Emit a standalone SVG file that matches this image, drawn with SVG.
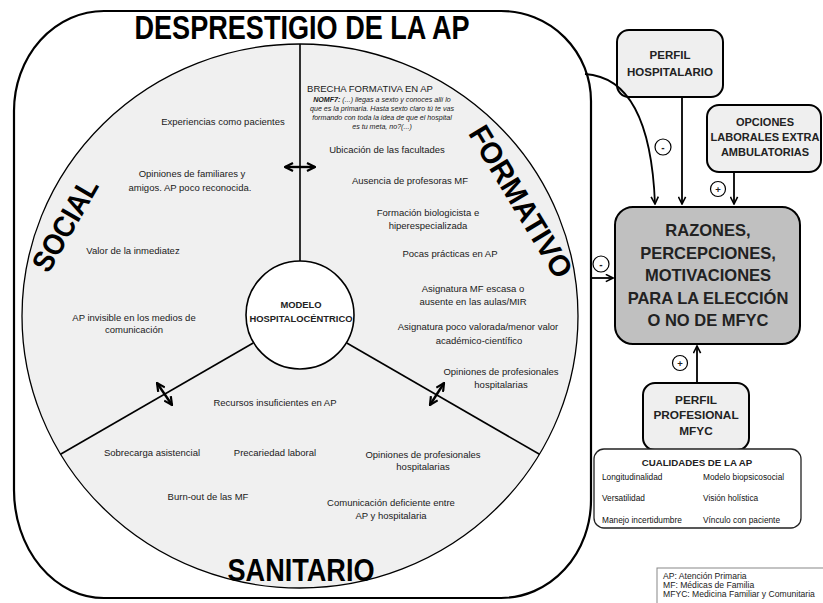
<svg xmlns="http://www.w3.org/2000/svg" width="823" height="603" viewBox="0 0 823 603">
<style>
.t{font-family:"Liberation Sans",Arial,sans-serif;font-size:9.5px;fill:#1a1a1a;text-anchor:middle}
.q{font-family:"Liberation Sans",Arial,sans-serif;font-size:7.1px;font-style:italic;fill:#1a1a1a;text-anchor:middle}
.big{font-family:"Liberation Sans",Arial,sans-serif;font-weight:bold;fill:#000;text-anchor:middle}
.nb{font-family:"Liberation Sans",Arial,sans-serif;font-weight:bold;fill:#222;text-anchor:middle}
.c{font-family:"Liberation Sans",Arial,sans-serif;font-size:8.3px;fill:#111}
.lg{font-family:"Liberation Sans",Arial,sans-serif;font-size:8.6px;fill:#222}
.box{stroke:#000;stroke-width:2}
.conn{fill:none;stroke:#000;stroke-width:1.8}
.dbl{fill:none;stroke:#000;stroke-width:2.4}
.sign{fill:#fff;stroke:#000;stroke-width:1.2}
</style>
<defs>
<marker id="ah" viewBox="0 0 10 10" refX="9" refY="5" markerWidth="9" markerHeight="9" markerUnits="userSpaceOnUse" orient="auto">
<path d="M1,1 L9,5 L1,9" fill="none" stroke="#000" stroke-width="1.8"/>
</marker>
<marker id="dh" viewBox="0 0 10 10" refX="9" refY="5" markerWidth="10" markerHeight="10" markerUnits="userSpaceOnUse" orient="auto-start-reverse">
<path d="M1,1 L9,5 L1,9" fill="none" stroke="#000" stroke-width="2.2"/>
</marker>
</defs>
<rect width="823" height="603" fill="#fff"/>

<g id="desprestigio">
<path d="M14,111 A90,100 0 0 1 104,11 L501,11 A90,90 0 0 1 591,101 L591,500 A90,98 0 0 1 501,598 L104,598 A90,108 0 0 1 14,490 Z" fill="#fff" stroke="#000" stroke-width="2.2"/>
<text class="big" x="302" y="39" font-size="33" textLength="335" lengthAdjust="spacingAndGlyphs">DESPRESTIGIO DE LA AP</text>
</g>

<g id="circulo">
<ellipse cx="300" cy="316" rx="278" ry="272" fill="#f0f0f0" stroke="#000" stroke-width="1.3"/>
<line x1="300" y1="44" x2="300" y2="262" stroke="#000" stroke-width="1.6"/>
<line x1="253.2" y1="343" x2="60.5" y2="454.3" stroke="#000" stroke-width="1.6"/>
<line x1="346.8" y1="343" x2="539.5" y2="454.3" stroke="#000" stroke-width="1.6"/>
</g>

<g id="modelo">
<circle cx="300" cy="315" r="54" fill="#fff" stroke="#000" stroke-width="1.6"/>
<text class="nb" x="301" y="308" font-size="9.4">MODELO</text>
<text class="nb" x="301" y="322" font-size="9.4">HOSPITALOCÉNTRICO</text>
</g>

<g id="social">
<text class="big" font-size="30" textLength="102" lengthAdjust="spacingAndGlyphs" transform="translate(74,230) rotate(-60)">SOCIAL</text>
<text class="t" x="223" y="125">Experiencias como pacientes</text>
<text class="t" x="192" y="177">Opiniones de familiares y</text>
<text class="t" x="190" y="191">amigos. AP poco reconocida.</text>
<text class="t" x="133" y="254">Valor de la inmediatez</text>
<text class="t" x="134" y="321">AP invisible en los medios de</text>
<text class="t" x="134" y="333">comunicación</text>
</g>

<g id="formativo">
<text class="big" font-size="30" textLength="172" lengthAdjust="spacingAndGlyphs" transform="translate(512,207) rotate(59)">FORMATIVO</text>
<text class="t" x="370" y="91.5">BRECHA FORMATIVA EN AP</text>
<text class="q" x="382" y="101.5"><tspan font-weight="bold">NOMF7:</tspan> (...) llegas a sexto y conoces allí lo</text>
<text class="q" x="382" y="110.5">que es la primaria. Hasta sexto claro tú te vas</text>
<text class="q" x="382" y="119.5">formando con toda la idea de que el hospital</text>
<text class="q" x="382" y="128.5">es tu meta, no?(...)</text>
<text class="t" x="387" y="153">Ubicación de las facultades</text>
<text class="t" x="410" y="184">Ausencia de profesoras MF</text>
<text class="t" x="428" y="216">Formación biologicista e</text>
<text class="t" x="428" y="229">hiperespecializada</text>
<text class="t" x="450" y="257">Pocas prácticas en AP</text>
<text class="t" x="473" y="292">Asignatura MF escasa o</text>
<text class="t" x="473" y="305">ausente en las aulas/MIR</text>
<text class="t" x="478" y="330">Asignatura poco valorada/menor valor</text>
<text class="t" x="479" y="344">académico-científico</text>
<text class="t" x="501" y="375">Opiniones de profesionales</text>
<text class="t" x="501" y="388">hospitalarias</text>
</g>

<g id="sanitario">
<text class="big" x="301" y="581" font-size="32" textLength="147" lengthAdjust="spacingAndGlyphs">SANITARIO</text>
<text class="t" x="275" y="406">Recursos insuficientes en AP</text>
<text class="t" x="152" y="456">Sobrecarga asistencial</text>
<text class="t" x="275" y="456">Precariedad laboral</text>
<text class="t" x="423" y="458">Opiniones de profesionales</text>
<text class="t" x="423" y="470">hospitalarias</text>
<text class="t" x="208" y="500">Burn-out de las MF</text>
<text class="t" x="391" y="506">Comunicación deficiente entre</text>
<text class="t" x="391" y="519">AP y hospitalaria</text>
</g>

<g id="interacciones">
<path class="dbl" d="M285,167 L315,167" marker-start="url(#dh)" marker-end="url(#dh)"/>
<path class="dbl" d="M157,383 L172,405" marker-start="url(#dh)" marker-end="url(#dh)"/>
<path class="dbl" d="M444,383 L430,405" marker-start="url(#dh)" marker-end="url(#dh)"/>
</g>

<g id="perfil-hospitalario">
<rect class="box" x="617" y="30" width="106" height="67" rx="12" fill="#efefef"/>
<text class="nb" x="670" y="59" font-size="11.5">PERFIL</text>
<text class="nb" x="670" y="76" font-size="11.5">HOSPITALARIO</text>
</g>

<g id="opciones">
<rect class="box" x="707" y="105" width="114" height="67" rx="12" fill="#efefef"/>
<text class="nb" x="765" y="126" font-size="11">OPCIONES</text>
<text class="nb" x="765" y="141" font-size="11">LABORALES EXTRA</text>
<text class="nb" x="765" y="156" font-size="11">AMBULATORIAS</text>
</g>

<g id="razones">
<rect class="box" x="615" y="207" width="185" height="137" rx="18" fill="#c0c0c0"/>
<text class="nb" x="708" y="236" font-size="16.5">RAZONES,</text>
<text class="nb" x="708" y="259" font-size="16.5">PERCEPCIONES,</text>
<text class="nb" x="708" y="281" font-size="16.5">MOTIVACIONES</text>
<text class="nb" x="708" y="304" font-size="16.5">PARA LA ELECCIÓN</text>
<text class="nb" x="708" y="326" font-size="16.5">O NO DE MFYC</text>
</g>

<g id="perfil-profesional">
<rect class="box" x="643" y="383" width="106" height="67" rx="12" fill="#efefef"/>
<text class="nb" x="696" y="403.5" font-size="11.8">PERFIL</text>
<text class="nb" x="696" y="418.5" font-size="11.8">PROFESIONAL</text>
<text class="nb" x="696" y="434.5" font-size="11.8">MFYC</text>
</g>

<g id="cualidades">
<rect x="594" y="449" width="207" height="79" rx="10" fill="#fff" stroke="#222" stroke-width="1.3"/>
<text class="nb" x="697" y="465.5" font-size="9.7">CUALIDADES DE LA AP</text>
<text class="c" x="602" y="480">Longitudinalidad</text>
<text class="c" x="602" y="501">Versatilidad</text>
<text class="c" x="602" y="523">Manejo incertidumbre</text>
<text class="c" x="703" y="480">Modelo biopsicosocial</text>
<text class="c" x="703" y="501">Visión holística</text>
<text class="c" x="703" y="523">Vínculo con paciente</text>
</g>

<g id="leyenda">
<rect x="657" y="568" width="170" height="40" fill="#fff" stroke="#888" stroke-width="1"/>
<text class="lg" x="663" y="579">AP: Atención Primaria</text>
<text class="lg" x="663" y="588">MF: Médicas de Familia</text>
<text class="lg" x="663" y="597">MFYC: Medicina Familiar y Comunitaria</text>
</g>

<g id="connectors">
<path class="conn" d="M585,74 Q650,78 655,204" marker-end="url(#ah)"/>
<path class="conn" d="M682,97 L682,204" marker-end="url(#ah)"/>
<path class="conn" d="M734,172 L734,204" marker-end="url(#ah)"/>
<path class="conn" d="M592,278 L613,278" marker-end="url(#ah)"/>
<path class="conn" d="M697,383 L697,346" marker-end="url(#ah)"/>
<circle class="sign" cx="663" cy="147" r="8"/>
<text class="nb" x="663" y="150.5" font-size="10">-</text>
<circle class="sign" cx="718" cy="189" r="7.5"/>
<text class="nb" x="718" y="192.5" font-size="9.5">+</text>
<circle class="sign" cx="601" cy="264" r="8"/>
<text class="nb" x="601" y="267.5" font-size="10">-</text>
<circle class="sign" cx="680" cy="363" r="7.5"/>
<text class="nb" x="680" y="366.5" font-size="9.5">+</text>
</g>
</svg>
